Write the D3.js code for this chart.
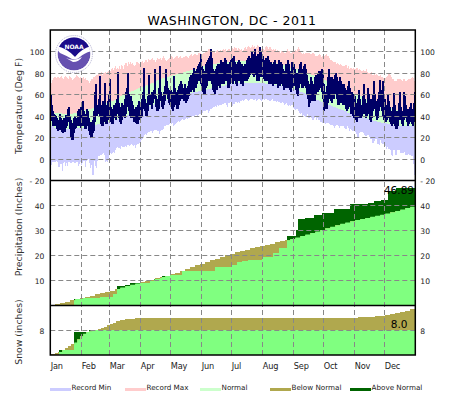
<!DOCTYPE html>
<html>
<head>
<meta charset="utf-8">
<style>
  body { margin:0; background:#fff; }
  text { font-family:"DejaVu Sans",sans-serif; fill:#222; }
  .grid { stroke:#888; stroke-width:1; stroke-dasharray:5,3; fill:none; }
  .frame { fill:none; stroke:#000; stroke-width:1.5; }
  .axis text { font-size:7.6px; }
  .axis path { display:none; }
  .month text { font-size:8.2px; letter-spacing:-0.2px; }
  .ylabel { font-size:9.3px; text-anchor:middle; fill:#333; }
  .legend text { font-size:7.2px; }
  .fill { shape-rendering:crispEdges; }
  .obs { shape-rendering:crispEdges; }
</style>
</head>
<body>
<svg width="465" height="395"></svg>
<script src="https://d3js.org/d3.v7.min.js"></script>
<script>

var months = ["Jan","Feb","Mar","Apr","May","Jun","Jul","Aug","Sep","Oct","Nov","Dec"]
var monthStarts = [0,31,59,90,120,151,181,212,243,273,304,334]
var tempTicks = [-20,0,20,40,60,80,100]
var precipTicks = [10,20,30,40]
var snowTicks = [8]

// daily temperatures, deg F (one row per month)
var recordMax = [
72,71,73,75,76,76,75,76,76,75,76,77,75,74,76,77,76,75,74,77,76,75,73,74,75,76,78,77,76,75,76,
74,75,76,74,75,73,73,72,71,72,74,74,76,76,77,78,78,79,79,80,81,78,80,80,81,79,81,82,
81,82,84,85,83,85,86,84,85,84,86,84,87,86,84,87,89,89,86,90,88,90,88,89,87,86,87,90,90,89,88,
90,90,91,89,90,92,92,90,93,92,92,93,94,92,92,90,92,94,93,93,94,92,94,96,94,92,91,92,93,94,
94,96,95,93,94,95,96,96,94,95,96,94,94,95,95,96,96,95,94,96,97,98,96,97,98,98,97,97,99,99,99,
98,98,99,99,100,100,100,102,102,101,102,100,100,100,99,100,101,100,100,101,100,101,102,101,102,100,101,102,102,100,
101,103,102,104,103,103,101,103,102,101,102,100,101,103,104,102,104,105,104,103,104,106,104,105,103,104,106,105,103,103,102,
102,102,101,104,105,104,102,104,104,102,101,102,101,102,100,101,100,100,99,100,100,100,99,99,100,102,100,100,99,99,100,
100,100,101,100,102,104,102,100,99,98,99,98,99,99,99,99,99,98,98,99,99,98,96,96,96,97,98,97,95,96,
96,96,97,98,96,96,94,92,92,91,90,90,90,88,89,88,87,88,87,86,86,86,87,87,85,86,84,85,85,84,85,
84,84,85,85,83,84,83,82,82,83,82,82,84,81,80,80,80,81,78,78,80,78,79,78,77,77,78,76,76,75,
75,75,76,77,79,80,78,76,74,74,72,72,72,74,74,74,74,73,72,74,74,72,72,73,74,74,74,75,76,75,72]

var recordMin = [
-14,-6,-3,-3,-3,-3,-2,-3,-8,-8,-5,-5,-12,-4,-3,-7,-4,-7,-3,-3,-4,-4,-3,-3,-4,-4,-3,-3,-7,-5,-3,
-6,-4,-2,-2,-8,-2,-1,0,-4,-9,-6,-15,-15,-2,-7,-9,-2,2,2,3,3,4,5,3,-3,-2,-3,0,
5,5,4,5,6,5,8,10,11,10,10,9,12,11,11,11,12,11,13,13,12,13,14,13,12,13,10,13,14,14,15,
15,17,18,20,22,23,22,24,25,25,26,26,24,26,27,27,27,26,26,23,26,27,27,28,30,30,31,31,31,32,
33,32,33,30,31,32,33,34,35,34,35,36,37,36,36,37,38,37,38,38,39,39,40,40,39,41,41,40,41,42,42,
43,43,44,44,44,45,45,43,44,46,46,47,48,48,49,48,50,49,50,50,50,51,51,52,52,50,48,52,52,53,
49,49,51,51,53,53,52,53,52,54,54,55,54,55,56,56,55,54,55,56,56,56,55,55,56,54,55,56,56,55,54,
55,56,55,56,56,55,55,54,54,55,56,54,54,54,53,54,53,53,52,52,53,52,50,51,52,50,49,50,49,50,50,
47,46,45,46,46,44,43,42,43,40,41,40,39,40,42,38,38,39,38,36,36,38,39,36,38,36,36,34,34,33,
33,33,32,33,33,33,32,31,31,31,30,29,30,31,31,30,29,30,30,30,30,29,28,28,30,29,26,28,27,26,26,
26,25,23,19,19,24,25,25,25,24,22,21,21,22,22,20,18,18,15,15,16,18,18,14,14,13,17,15,14,14,
14,12,9,11,9,9,8,3,2,8,8,3,3,8,8,8,5,5,5,5,6,3,3,3,4,3,3,2,2,-5,-15]

var normalHigh = [
44,44,43,43,43,43,43,43,43,43,43,43,42,42,42,42,42,42,42,42,42,42,42,43,43,43,43,43,43,43,44,
44,44,44,45,45,45,45,46,46,46,46,47,47,47,47,48,48,48,49,49,50,50,50,51,51,52,52,52,
53,53,54,54,54,55,55,56,56,57,57,58,58,59,59,59,60,60,61,61,62,62,63,63,63,64,64,65,65,66,66,
66,67,67,68,68,68,69,69,70,70,70,71,71,71,72,72,72,73,73,74,74,74,75,75,75,75,76,76,76,77,
77,77,78,78,78,78,79,79,79,80,80,80,80,81,81,81,82,82,82,82,83,83,83,84,84,84,84,85,85,85,85,
85,86,86,86,86,87,87,87,87,87,88,88,88,88,88,88,89,89,89,89,89,89,90,90,90,90,90,90,90,90,
90,90,91,91,91,91,91,91,91,91,91,91,91,91,91,91,91,91,91,91,91,91,91,91,91,91,91,91,90,90,90,
90,90,90,90,90,90,90,90,89,89,89,89,89,89,89,88,88,88,88,88,87,87,87,87,86,86,86,86,85,85,85,
85,85,84,84,84,83,83,83,82,82,82,81,81,80,80,80,79,79,78,78,78,77,77,76,76,75,75,75,74,74,
73,73,73,72,72,71,71,70,70,70,69,69,68,68,68,67,67,66,66,65,65,65,64,64,63,63,62,62,62,61,61,
60,60,60,59,59,58,58,58,57,57,56,56,56,55,55,54,54,54,53,53,52,52,52,51,51,51,50,50,49,49,
49,49,48,48,48,47,47,47,46,46,46,45,45,45,45,44,44,44,44,44,43,43,43,43,43,43,43,43,43,44,44]

var normalLow = [
30,30,30,30,29,29,29,29,29,28,28,28,28,28,28,28,28,28,28,28,28,28,28,28,28,28,29,29,29,29,29,
29,29,29,29,29,30,30,30,30,30,30,31,31,31,31,31,32,32,32,32,33,33,33,33,34,34,34,34,
34,35,35,35,36,36,36,37,37,37,38,38,38,39,39,39,40,40,41,41,41,42,42,43,43,43,44,44,44,45,45,
45,46,46,46,47,47,48,48,48,49,49,50,50,50,51,51,51,52,52,53,53,53,54,54,54,55,55,55,55,55,
55,56,56,56,57,57,57,57,58,58,58,59,59,59,59,60,60,60,60,61,61,61,61,62,62,62,62,62,63,63,63,
63,63,64,64,64,64,65,65,65,65,66,66,66,66,67,67,67,67,67,68,68,68,68,68,69,69,69,69,69,70,
70,70,70,70,70,71,71,71,71,71,71,71,71,71,71,71,71,71,71,71,71,71,71,71,71,71,71,71,71,71,71,
71,71,71,70,70,70,70,70,70,70,70,69,69,69,69,69,69,68,68,68,68,68,67,67,67,67,66,66,66,66,65,
65,65,64,64,64,63,63,62,62,62,61,61,60,60,60,59,59,58,58,57,57,56,56,55,55,55,54,54,53,53,
52,52,52,51,51,50,50,50,49,49,48,48,48,47,47,46,46,46,45,45,45,44,44,44,43,43,43,42,42,42,41,
41,41,41,40,40,40,39,39,39,38,38,38,38,37,37,37,36,36,36,35,35,35,35,34,34,34,34,33,33,33,
33,33,33,32,32,32,32,32,31,31,31,31,31,31,30,30,30,30,30,30,30,30,30,30,30,30,30,30,30,30,30]

var obsHigh = [
60,50,44,42,41,40,38,36,35,42,38,36,34,38,36,41,38,46,48,40,36,33,32,38,40,38,35,44,46,46,48,
48,54,44,40,42,46,44,38,34,32,34,36,44,62,70,50,48,56,77,50,46,54,48,71,46,50,54,60,
74,48,44,46,50,48,52,56,81,52,46,48,52,50,48,56,62,66,80,60,52,58,54,50,46,44,48,46,50,54,50,
50,56,62,85,56,50,52,58,78,60,56,62,58,64,84,58,54,56,66,86,62,58,56,62,68,84,72,66,62,64,
64,62,60,77,66,62,60,64,68,70,72,70,66,66,70,64,66,68,72,76,78,76,80,85,78,82,84,86,88,90,98,
86,84,78,82,88,90,92,94,96,102,94,84,82,80,84,86,88,84,88,92,90,86,90,94,92,88,84,88,90,92,
94,92,96,90,88,86,90,92,90,86,88,84,86,88,84,92,94,96,92,94,100,98,96,102,94,96,98,92,104,100,94,
96,92,90,94,90,96,92,88,90,88,86,90,92,88,84,88,92,88,90,88,84,80,82,88,84,92,88,82,78,90,84,
88,84,80,76,80,84,88,90,78,84,86,88,84,78,72,68,70,76,72,70,66,76,78,74,80,82,80,82,84,78,
70,62,56,68,76,84,76,70,76,74,72,78,80,76,72,70,76,72,70,66,70,66,60,64,68,72,66,60,62,60,54,
58,50,52,56,64,56,48,50,58,70,56,50,52,66,60,52,56,54,60,72,60,54,50,56,62,73,64,60,72,54,
56,50,50,60,54,48,44,42,48,61,50,44,42,44,52,62,48,44,42,62,58,50,46,44,46,48,52,46,44,52,62]

var obsLow = [
40,35,30,30,31,30,28,26,27,29,27,25,24,28,25,29,30,34,36,28,19,17,17,24,28,29,30,30,33,30,29,
30,32,30,28,28,30,30,26,22,19,19,24,26,34,42,40,42,44,40,32,30,30,34,38,32,32,36,38,
44,34,32,32,38,40,36,42,46,38,34,32,36,42,40,38,42,48,50,44,40,38,44,38,34,34,33,32,32,36,36,
38,40,46,50,44,40,40,44,50,52,50,46,52,56,56,48,44,44,46,58,54,48,46,50,54,60,60,56,52,50,
50,46,44,48,52,50,46,46,50,54,56,58,56,54,54,52,54,56,58,62,62,64,66,62,66,66,70,72,72,74,70,
66,62,60,60,66,68,72,74,72,74,70,64,62,60,64,64,68,68,66,70,72,70,70,72,74,72,66,66,70,72,
72,70,74,72,70,68,72,74,72,70,70,68,72,74,72,72,74,76,78,80,80,78,76,80,78,72,74,72,76,78,76,
76,74,72,74,72,74,70,72,70,70,68,72,70,70,70,66,70,68,72,70,68,64,66,70,66,70,66,64,62,66,68,
70,68,64,60,58,66,70,72,66,66,68,70,66,60,56,48,52,58,54,56,54,54,60,62,62,64,66,66,62,56,
44,46,48,46,52,56,58,54,52,58,56,60,60,56,50,50,52,54,52,50,52,50,46,44,46,50,48,42,44,40,38,
36,36,34,38,40,38,38,40,42,46,42,38,40,44,42,36,34,38,44,48,46,40,36,38,44,48,50,44,40,36,
38,34,36,42,38,34,32,30,32,36,30,28,28,30,36,40,36,32,30,36,42,38,34,30,32,34,36,32,30,34,42]

// cumulative precipitation, inches: normal sampled every 5 days, observed at the jumps
var precipNormalDays = d3.range(0,365,5).concat([365])
var precipNormal = [0.1,0.4,0.9,1.4,1.9,2.4,2.9,3.4,3.8,4.3,4.8,5.2,5.8,6.4,7.0,7.6,8.1,8.6,9.2,9.7,10.2,10.7,11.2,11.7,12.3,13.0,13.7,14.5,15.2,15.9,16.6,17.3,17.9,18.6,19.2,19.9,20.6,21.1,21.7,22.2,22.7,23.2,23.7,24.2,24.6,25.1,25.5,25.9,26.4,27.0,27.6,28.2,28.8,29.4,30.0,30.7,31.3,31.9,32.5,33.0,33.5,34.0,34.4,34.8,35.3,35.7,36.1,36.6,37.1,37.6,38.2,38.8,39.3,39.8]
var precipObsDays = [0,24,33,50,63,67,75,80,88,90,100,104,110,112,120,132,165,182,187,192,198,212,223,229,237,246,248,255,264,272,284,300,318,324,331,338,346,365]
var precipObs = [0.1,2.4,2.8,3.3,4.3,7.6,8.0,8.8,9.0,9.0,9.8,10.4,11.0,11.8,12.0,13.6,15.2,16.1,17.1,17.7,18.0,19.3,20.7,23.0,27.6,30.0,34.3,35.0,36.0,37.0,38.4,40.3,40.7,41.6,42.0,45.7,46.89,46.89]
var precipTotal = "46.89"

// cumulative snow, inches
var snowNormalDays = [0,5,8,12,15,18,21,24,27,30,33,36,39,42,45,48,51,54,57,60,63,66,70,75,80,85,90,308,325,335,340,345,350,355,360,365]
var snowNormal = [0.2,0.6,1.0,1.6,2.2,2.8,3.4,4.0,5.0,6.0,6.8,7.4,7.6,7.8,8.0,8.2,8.6,9.0,9.6,10.0,10.4,10.8,11.1,11.4,11.6,11.8,12.0,12.3,12.5,12.7,13.0,13.4,13.8,14.2,14.6,14.8]
var snowObsDays = [0,9,24,39,365]
var snowObs = [0.1,1.6,7.4,8.0,8.0]
var snowTotal = "8.0"

var legendLabels = ["Record Min","Record Max","Normal","Below Normal","Above Normal"]
var legendColors = ["#ccccff","#ffcccc","#ccffcc","#b0a84e","#006400"]

var svg = d3.select("svg")

var left = 50.3, right = 415.3
var x = d3.scaleLinear().domain([0,365]).range([left,right])
var yTemp = d3.scaleLinear().domain([-20,120]).range([180,30])
var yPrecip = d3.scaleLinear().domain([0,50]).range([305,180])
var ySnow = d3.scaleLinear().domain([0,16]).range([355,305])

var allDays = d3.range(366)

// band between two daily series, last day held to the right edge
function band(top, bottom, color) {
  var area = d3.area()
    .curve(d3.curveStepAfter)
    .x(function(d) {return x(d)})
    .y0(function(d) {return yTemp(bottom[Math.min(d,364)])})
    .y1(function(d) {return yTemp(top[Math.min(d,364)])})
  svg.append("path").attr("class","fill").attr("fill",color).attr("d",area(allDays))
}

band(recordMax, normalHigh, legendColors[1])
band(normalHigh, normalLow, legendColors[2])
band(normalLow, recordMin, legendColors[0])

// observed high/low, one bar for each day
svg.selectAll(".obs")
  .data(obsHigh)
  .enter().append("line")
  .attr("class","obs")
  .attr("stroke","#000066")
  .attr("stroke-width",2)
  .attr("x1",function(d,i) {return x(i+0.5)})
  .attr("x2",function(d,i) {return x(i+0.5)})
  .attr("y1",function(d) {return yTemp(d)})
  .attr("y2",function(d,i) {return yTemp(obsLow[i])})

// cumulative panel: above normal under, below normal over, and the green clipped to both
function cumulative(id, y, days, normal, obsDays, obs) {
  var stepArea = function(ds, vs) {
    return d3.area()
      .curve(d3.curveStepAfter)
      .x(function(d,i) {return x(ds[i])})
      .y0(y(0))
      .y1(function(d) {return y(d)})(vs)
  }
  svg.append("clipPath").attr("id",id).append("path").attr("d",stepArea(days,normal))
  svg.append("path").attr("class","fill").attr("fill",legendColors[4]).attr("d",stepArea(obsDays,obs))
  svg.append("path").attr("class","fill").attr("fill",legendColors[3]).attr("d",stepArea(days,normal))
  svg.append("path").attr("class","fill").attr("fill","#80ff80")
    .attr("clip-path","url(#"+id+")").attr("d",stepArea(obsDays,obs))
}

cumulative("clipPrecip", yPrecip, precipNormalDays, precipNormal, precipObsDays, precipObs)
cumulative("clipSnow", ySnow, snowNormalDays, snowNormal, snowObsDays, snowObs)

// grid goes over the fills
var grids = [[yTemp,tempTicks.slice(1)],[yPrecip,precipTicks],[ySnow,snowTicks]]
grids.forEach(function(g) {
  svg.selectAll(null).data(g[1]).enter().append("line")
    .attr("class","grid")
    .attr("x1",left).attr("x2",right)
    .attr("y1",function(d) {return Math.round(g[0](d))+0.5})
    .attr("y2",function(d) {return Math.round(g[0](d))+0.5})
})
svg.selectAll(null).data(monthStarts.slice(1)).enter().append("line")
  .attr("class","grid")
  .attr("x1",function(d) {return Math.round(x(d))+0.5})
  .attr("x2",function(d) {return Math.round(x(d))+0.5})
  .attr("y1",30).attr("y2",355)

svg.append("rect").attr("class","frame").attr("x",left).attr("y",30).attr("width",right-left).attr("height",325)
svg.append("line").attr("class","frame").attr("x1",left).attr("x2",right).attr("y1",180.5).attr("y2",180.5)
svg.append("line").attr("class","frame").attr("x1",left).attr("x2",right).attr("y1",305.5).attr("y2",305.5)

// axes
function fmt(d) {return d<0 ? "- "+(-d) : d}
var axisList = [[yTemp,tempTicks],[yPrecip,precipTicks],[ySnow,snowTicks]]
axisList.forEach(function(a) {
  svg.append("g").attr("class","axis")
    .attr("transform","translate("+(left-6)+",1)")
    .call(d3.axisLeft(a[0]).tickValues(a[1]).tickSize(0).tickPadding(0).tickFormat(fmt))
  svg.append("g").attr("class","axis")
    .attr("transform","translate("+(right+5)+",1)")
    .call(d3.axisRight(a[0]).tickValues(a[1]).tickSize(0).tickPadding(0).tickFormat(fmt))
})

svg.append("g").attr("class","month")
  .selectAll("text").data(months).enter().append("text")
  .attr("x",function(d,i) {return x(monthStarts[i])+0.5})
  .attr("y",368.5)
  .text(function(d) {return d})

// title and labels
svg.append("text").attr("x",232).attr("y",25).attr("text-anchor","middle")
  .attr("font-size","12.5px").attr("letter-spacing","0.57px").style("fill","#000")
  .text("WASHINGTON, DC - 2011")

var yLabels = [["Temperature (Deg F)",106],["Precipitation (Inches)",227],["Snow (inches)",332]]
yLabels.forEach(function(l) {
  svg.append("text").attr("class","ylabel")
    .attr("transform","translate(21.5,"+l[1]+") rotate(-90)")
    .text(l[0])
})

svg.append("text").attr("x",414).attr("y",194).attr("text-anchor","end")
  .attr("font-size","10.5px").style("fill","#000").text(precipTotal)
svg.append("text").attr("x",407.5).attr("y",328).attr("text-anchor","end")
  .attr("font-size","10.5px").style("fill","#000").text(snowTotal)

// legend
var legendX = [50,125,200,270,350]
var legend = svg.append("g").attr("class","legend")
legend.selectAll("rect").data(legendLabels).enter().append("rect")
  .attr("x",function(d,i) {return legendX[i]})
  .attr("y",388).attr("width",21).attr("height",3)
  .attr("fill",function(d,i) {return legendColors[i]})
legend.selectAll("text").data(legendLabels).enter().append("text")
  .attr("x",function(d,i) {return legendX[i]+21.5})
  .attr("y",390)
  .text(function(d) {return d})

// NOAA logo
var logo = svg.append("g").attr("transform","translate(74,54)")
logo.append("circle").attr("r",18.5).attr("fill","#fff").attr("stroke","#b0aed0").attr("stroke-width",1).attr("stroke-dasharray","1,1")
logo.append("clipPath").attr("id","logoClip").append("circle").attr("r",16.5)
var inner = logo.append("g").attr("clip-path","url(#logoClip)")
inner.append("circle").attr("r",16.5).attr("fill","#6650b0")
inner.append("path").attr("fill","#1a0c8a").attr("d","M-18,-18 L18,-18 L18,-8 Q8,-6 1,3 Q-7,-6 -18,-8 Z")
inner.append("path").attr("fill","#fff").attr("d","M-18,-8 Q-7,-6 1,3 Q8,-6 18,-8 L18,-3 Q10,-1 6,3 Q3,6 -2,5 Q-9,1 -14,-1 Q-17,-4 -18,-8 Z")
inner.append("path").attr("fill","#fff").attr("d","M-8,4 Q0,8 8,3 Q5,8 -1,8 Z")
logo.append("text").attr("y",-5).attr("text-anchor","middle").attr("font-size","6px").attr("font-weight","bold")
  .style("fill","#fff").text("NOAA")

</script>
</body>
</html>
